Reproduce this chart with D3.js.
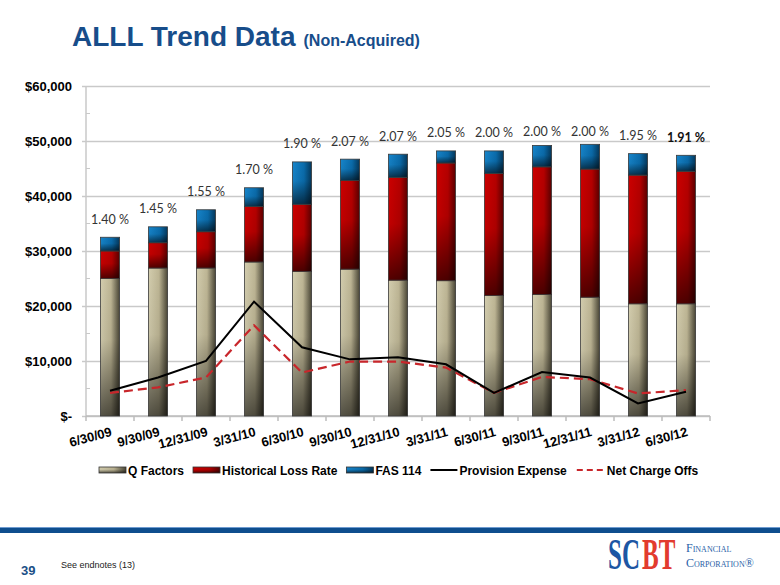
<!DOCTYPE html>
<html>
<head>
<meta charset="utf-8">
<script src="https://cdn.jsdelivr.net/npm/d3@7"></script>
<style>
  html, body { margin: 0; padding: 0; background: #ffffff; }
  svg { display: block; }
</style>
</head>
<body>
<svg id="chart" width="780" height="585"></svg>
<script>
// ---------------- DATA ----------------
const categories = ["6/30/09","9/30/09","12/31/09","3/31/10","6/30/10","9/30/10","12/31/10","3/31/11","6/30/11","9/30/11","12/31/11","3/31/12","6/30/12"];
const qFactors        = [25000, 26900, 26900, 28000, 26300, 26700, 24700, 24600, 21900, 22100, 21600, 20400, 20400];
const historicalLoss  = [5000, 4600, 6600, 10100, 12200, 16100, 18700, 21400, 22200, 23200, 23300, 23400, 24100];
const fas114          = [2500, 2900, 4000, 3400, 7700, 3900, 4200, 2200, 4100, 3900, 4500, 3900, 2900];
const provisionExpense = [4600, 7000, 10000, 20800, 12500, 10300, 10700, 9400, 4200, 8000, 7000, 2300, 4400];
const netChargeOffs    = [4200, 5200, 7000, 16500, 7900, 9900, 9900, 8800, 4200, 7100, 6700, 4100, 4700];
const pctLabels = ["1.40 %","1.45 %","1.55 %","1.70 %","1.90 %","2.07 %","2.07 %","2.05 %","2.00 %","2.00 %","2.00 %","1.95 %","1.91 %"];
const yTickValues = [0, 10000, 20000, 30000, 40000, 50000, 60000];
const yTickLabels = ["$-", "$10,000", "$20,000", "$30,000", "$40,000", "$50,000", "$60,000"];
const seriesNames = ["Q Factors", "Historical Loss Rate", "FAS 114"];
const lineNames = ["Provision Expense", "Net Charge Offs"];

// ---------------- SETUP ----------------
const svg = d3.select("#chart");
const plot = { left: 86, right: 710, top: 86, bottom: 416 };

const x = d3.scaleBand().domain(categories).range([plot.left, plot.right])
  .paddingInner(0.6).paddingOuter(0.3);
const y = d3.scaleLinear().domain([0, 60000]).range([plot.bottom, plot.top]);

// gradients
const defs = svg.append("defs");
const palettes = [
  { id: "gTan",  stops: [["0%", "#d3cdae"], ["55%", "#bdb594"], ["100%", "#4a4636"]] },
  { id: "gRed",  stops: [["0%", "#cc0000"], ["60%", "#b40000"], ["100%", "#5a0000"]] },
  { id: "gBlue", stops: [["0%", "#1786cc"], ["60%", "#0a6cac"], ["100%", "#04385c"]] }
];
palettes.forEach(p => {
  const g = defs.append("linearGradient").attr("id", p.id)
    .attr("x1", 0).attr("y1", 0).attr("x2", 1).attr("y2", 0);
  p.stops.forEach(s => g.append("stop").attr("offset", s[0]).attr("stop-color", s[1]));
});
const shade = defs.append("linearGradient").attr("id", "gShade")
  .attr("x1", 0).attr("y1", 0).attr("x2", 0).attr("y2", 1);
shade.append("stop").attr("offset", "0%").attr("stop-color", "#000").attr("stop-opacity", 0);
shade.append("stop").attr("offset", "45%").attr("stop-color", "#000").attr("stop-opacity", 0.05);
shade.append("stop").attr("offset", "100%").attr("stop-color", "#000").attr("stop-opacity", 0.6);

// ---------------- TITLE ----------------
const title = svg.append("text").attr("x", 72).attr("y", 46)
  .attr("font-family", "Liberation Sans, Arial, sans-serif").attr("font-weight", "bold")
  .attr("fill", "#174d8a");
title.append("tspan").attr("font-size", 28).text("ALLL Trend Data");
title.append("tspan").attr("font-size", 16).attr("dx", 8).text("(Non-Acquired)");

// ---------------- AXES / GRID ----------------
const yAxis = d3.axisLeft(y).tickValues(yTickValues)
  .tickSizeInner(-(plot.right - plot.left + 4)).tickSizeOuter(0).tickPadding(10)
  .tickFormat((d, i) => yTickLabels[i]);
const gy = svg.append("g").attr("transform", `translate(${plot.left - 4},0)`).call(yAxis);
gy.select(".domain").remove();
gy.selectAll(".tick line").attr("stroke", "#c9c9c9").attr("stroke-width", 1.5);
gy.selectAll(".tick text").attr("font-family", "Liberation Sans, Arial, sans-serif")
  .attr("font-weight", "bold").attr("font-size", 13).attr("fill", "#000");

// minor ticks
const minor = d3.range(5000, 60000, 10000);
svg.append("g").selectAll("line").data(minor).join("line")
  .attr("x1", plot.left).attr("x2", plot.left + 4)
  .attr("y1", d => y(d)).attr("y2", d => y(d))
  .attr("stroke", "#c9c9c9").attr("stroke-width", 1);

// y axis line
svg.append("line").attr("x1", plot.left).attr("x2", plot.left)
  .attr("y1", plot.top).attr("y2", plot.bottom)
  .attr("stroke", "#c9c9c9").attr("stroke-width", 1.5);

// x axis line and ticks at band boundaries
svg.append("line").attr("x1", plot.left).attr("x2", plot.right)
  .attr("y1", plot.bottom).attr("y2", plot.bottom)
  .attr("stroke", "#bdbdbd").attr("stroke-width", 1.5);
svg.append("g").selectAll("line").data(categories.concat(["__end"])).join("line")
  .attr("x1", (d, i) => plot.left + i * x.step()).attr("x2", (d, i) => plot.left + i * x.step())
  .attr("y1", plot.bottom).attr("y2", plot.bottom + 5)
  .attr("stroke", "#bdbdbd").attr("stroke-width", 1.5);

// x labels
svg.append("g").selectAll("text").data(categories).join("text")
  .attr("transform", d => `translate(${x(d) + x.bandwidth() / 2},426) rotate(-15)`)
  .attr("x", 0).attr("y", 10).attr("text-anchor", "end")
  .attr("font-family", "Liberation Sans, Arial, sans-serif").attr("font-weight", "bold")
  .attr("font-size", 13).attr("fill", "#000").text(d => d);

// ---------------- BARS ----------------
const stacked = d3.stack().keys([0, 1, 2]).value((d, k) => d[k])(
  categories.map((c, i) => [qFactors[i], historicalLoss[i], fas114[i]])
);
const fills = ["url(#gTan)", "url(#gRed)", "url(#gBlue)"];
stacked.forEach((layer, li) => {
  const g = svg.append("g");
  const rects = g.selectAll("g").data(layer).join("g");
  rects.append("rect")
    .attr("x", (d, i) => x(categories[i])).attr("width", x.bandwidth())
    .attr("y", d => y(d[1])).attr("height", d => y(d[0]) - y(d[1]))
    .attr("fill", fills[li]);
  rects.append("rect")
    .attr("x", (d, i) => x(categories[i])).attr("width", x.bandwidth())
    .attr("y", d => y(d[1])).attr("height", d => y(d[0]) - y(d[1]))
    .attr("fill", "url(#gShade)")
    .attr("stroke", "#3a3a3a").attr("stroke-width", 0.8);
});

// ---------------- LINES ----------------
const lineGen = arr => d3.line()
  .x((d, i) => x(categories[i]) + x.bandwidth() / 2)
  .y(d => y(d))(arr);
svg.append("path").attr("d", lineGen(netChargeOffs))
  .attr("fill", "none").attr("stroke", "#c8262b").attr("stroke-width", 2.2)
  .attr("stroke-dasharray", "9,5");
svg.append("path").attr("d", lineGen(provisionExpense))
  .attr("fill", "none").attr("stroke", "#000").attr("stroke-width", 2);

// ---------------- PERCENT LABELS ----------------
const totals = categories.map((c, i) => qFactors[i] + historicalLoss[i] + fas114[i]);
svg.append("g").selectAll("text").data(pctLabels).join("text")
  .attr("x", (d, i) => x(categories[i]) + x.bandwidth() / 2)
  .attr("y", (d, i) => Math.max(y(totals[i]) - 18, 131) + 4.5)
  .attr("text-anchor", "middle")
  .attr("font-family", "Lato, 'Open Sans', sans-serif")
  .attr("font-size", 12.5)
  .attr("font-weight", (d, i) => i === pctLabels.length - 1 ? "bold" : "normal")
  .attr("fill", (d, i) => i === pctLabels.length - 1 ? "#111" : "#333")
  .text(d => d);

// ---------------- LEGEND ----------------
const legend = svg.append("g").attr("font-family", "Liberation Sans, Arial, sans-serif")
  .attr("font-weight", "bold").attr("font-size", 12);
let lx = 99;
const ly = 470;
const items = [
  { name: seriesNames[0], type: "box", fill: fills[0] },
  { name: seriesNames[1], type: "box", fill: fills[1] },
  { name: seriesNames[2], type: "box", fill: fills[2] },
  { name: lineNames[0], type: "line", stroke: "#000", dash: null },
  { name: lineNames[1], type: "line", stroke: "#c8262b", dash: "6,4" }
];
items.forEach(it => {
  if (it.type === "box") {
    legend.append("rect").attr("x", lx).attr("y", ly - 3).attr("width", 27).attr("height", 6)
      .attr("fill", it.fill);
    legend.append("rect").attr("x", lx).attr("y", ly - 3).attr("width", 27).attr("height", 6)
      .attr("fill", "url(#gShade)").attr("stroke", "#333").attr("stroke-width", 0.8);
  } else {
    legend.append("line").attr("x1", lx).attr("x2", lx + 27).attr("y1", ly).attr("y2", ly)
      .attr("stroke", it.stroke).attr("stroke-width", 2).attr("stroke-dasharray", it.dash)
      .attr("stroke-dashoffset", it.dash ? -1 : null);
  }
  const gap = (it.type === "line" && it.dash) ? 31 : 29;
  const t = legend.append("text").attr("x", lx + gap).attr("y", ly + 4.5)
    .attr("fill", "#000").text(it.name);
  lx = lx + gap + t.node().getComputedTextLength() + 9;
});

// ---------------- FOOTER ----------------
svg.append("rect").attr("x", 0).attr("y", 527).attr("width", 780).attr("height", 6).attr("fill", "#0f4e8e");
svg.append("line").attr("x1", 0).attr("x2", 780).attr("y1", 527.5).attr("y2", 527.5)
  .attr("stroke", "#6f9bd0").attr("stroke-width", 1);
svg.append("text").attr("x", 21).attr("y", 575)
  .attr("font-family", "Liberation Sans, Arial, sans-serif").attr("font-weight", "bold")
  .attr("font-size", 13).attr("fill", "#1b4f86").text("39");
svg.append("text").attr("x", 61).attr("y", 568)
  .attr("font-family", "Liberation Sans, Arial, sans-serif")
  .attr("font-size", 9).attr("fill", "#222").text("See endnotes (13)");

// logo: condensed heavy letters drawn by vertical stretching of a small font
const logo = svg.append("g");
logo.append("text").attr("transform", "translate(608,569) scale(1,1.75)")
  .attr("font-family", "Liberation Serif, serif").attr("font-weight", "bold")
  .attr("font-size", 25).attr("fill", "#1d56a3").text("SC");
logo.append("text").attr("transform", "translate(642,569) scale(1,1.75)")
  .attr("font-family", "Liberation Serif, serif").attr("font-weight", "bold")
  .attr("font-size", 25).attr("fill", "#e23b2e").text("BT");
logo.append("text").attr("x", 686).attr("y", 552)
  .attr("font-family", "Liberation Serif, serif").attr("fill", "#2a5fa8")
  .attr("font-size", 12).style("font-variant", "small-caps").text("Financial");
logo.append("text").attr("x", 686).attr("y", 567)
  .attr("font-family", "Liberation Serif, serif").attr("fill", "#2a5fa8")
  .attr("font-size", 12).style("font-variant", "small-caps").text("Corporation®");
</script>
</body>
</html>
